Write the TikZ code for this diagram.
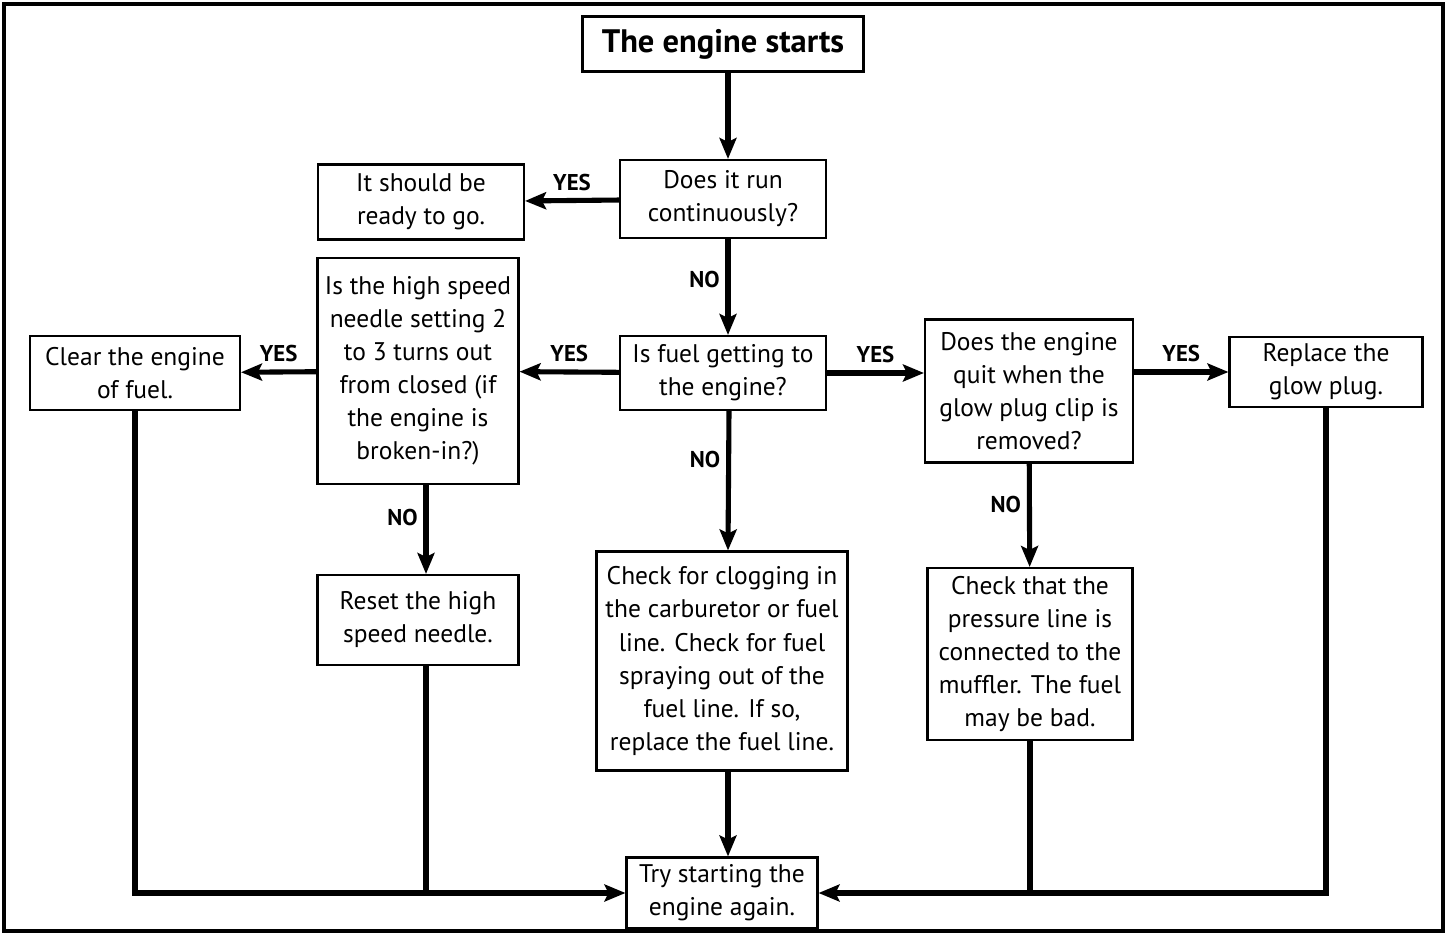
\documentclass[tikz,border=0pt]{standalone}
\usepackage{fontspec}
\setmainfont{PT Sans}
\usetikzlibrary{arrows.meta,positioning}

\begin{document}
\begin{tikzpicture}[x=0.02cm,y=-0.02cm,
  every node/.style={align=center,font=\fontsize{14.5}{18.8}\selectfont},
  box/.style={draw,line width=1.2pt,inner sep=1pt},
  lbl/.style={font=\fontsize{13}{15}\selectfont\bfseries},
  to/.style={-{Stealth[length=0.42cm,width=0.34cm,inset=0.08cm]},line width=2.9pt},
  line/.style={line width=2.9pt}]

    \useasboundingbox (0,0) rectangle (1447,935);
    \draw[line width=2pt] (4,4) rectangle (1443,931);

    \node[box,minimum width=5.62cm,minimum height=1.1cm,
      font=\fontsize{18.5}{22}\selectfont\bfseries] (start) at (723,44) {The engine starts};
    \node[box,minimum width=4.12cm,minimum height=1.56cm] (run) at (723,199) {Does it run\\continuously?};
    \node[box,minimum width=4.12cm,minimum height=1.5cm] (ready) at (421,202) {It should be\\ready to go.};
    \node[box,minimum width=4.02cm,minimum height=4.52cm] (needle) at (418,371)
      {Is the high speed\\needle setting 2\\to 3 turns out\\from closed (if\\the engine is\\broken-in?)};
    \node[box,minimum width=4.2cm,minimum height=1.48cm] (clear) at (135,373) {Clear the engine\\of fuel.};
    \node[box,minimum width=4.12cm,minimum height=1.48cm] (fuel) at (723,373) {Is fuel getting to\\the engine?};
    \node[box,minimum width=4.16cm,minimum height=2.86cm] (quit) at (1029,391)
      {Does the engine\\quit when the\\glow plug clip is\\removed?};
    \node[box,minimum width=3.86cm,minimum height=1.4cm] (replace) at (1326,372) {Replace the\\glow plug.};
    \node[box,minimum width=4.02cm,minimum height=1.8cm] (reset) at (418,620) {Reset the high\\speed needle.};
    \node[box,minimum width=5.02cm,minimum height=4.38cm] (check) at (722,661)
      {Check for clogging in\\the carburetor or fuel\\line. Check for fuel\\spraying out of the\\fuel line. If so,\\replace the fuel line.};
    \node[box,minimum width=4.1cm,minimum height=3.44cm] (press) at (1030,654)
      {Check that the\\pressure line is\\connected to the\\muffler. The fuel\\may be bad.};
    \node[box,minimum width=3.82cm,minimum height=1.42cm] (again) at (722,893) {Try starting the\\engine again.};

    \draw[to] ([xshift=0.1cm]start.south) -- ([xshift=0.1cm]run.north);
    \draw[to] (run) -- node[lbl,above=1pt]{YES} (ready);
    \draw[to] ([xshift=0.1cm]run.south) -- node[lbl,left,pos=0.42]{NO} ([xshift=0.1cm]fuel.north);
    \draw[to] (fuel) -- node[lbl,above=1pt]{YES} (needle);
    \draw[to] (needle) -- node[lbl,above=1pt]{YES} (clear);
    \draw[to] (fuel) -- node[lbl,above=1pt]{YES} (fuel -| quit.west);
    \draw[to] (replace -| quit.east) -- node[lbl,above=1pt]{YES} (replace);
    \draw[to] ([xshift=0.16cm]needle.south) -- node[lbl,left,pos=0.36]{NO} ([xshift=0.16cm]reset.north);
    \draw[to] ([xshift=0.12cm]fuel.south) -- node[lbl,left,pos=0.35]{NO} ([xshift=0.12cm]check.north);
    \draw[to] (quit) -- node[lbl,left,pos=0.4]{NO} (press);
    \draw[to] ([xshift=0.12cm]check.south) -- ([xshift=0.12cm]again.north);
    \draw[to] (clear) |- (again);
    \draw[line] ([xshift=0.16cm]reset.south) -- ([xshift=0.16cm]reset.south |- again);
    \draw[to] (replace) |- (again);
    \draw[line] (press) -- (press |- again);
\end{tikzpicture}
\end{document}
